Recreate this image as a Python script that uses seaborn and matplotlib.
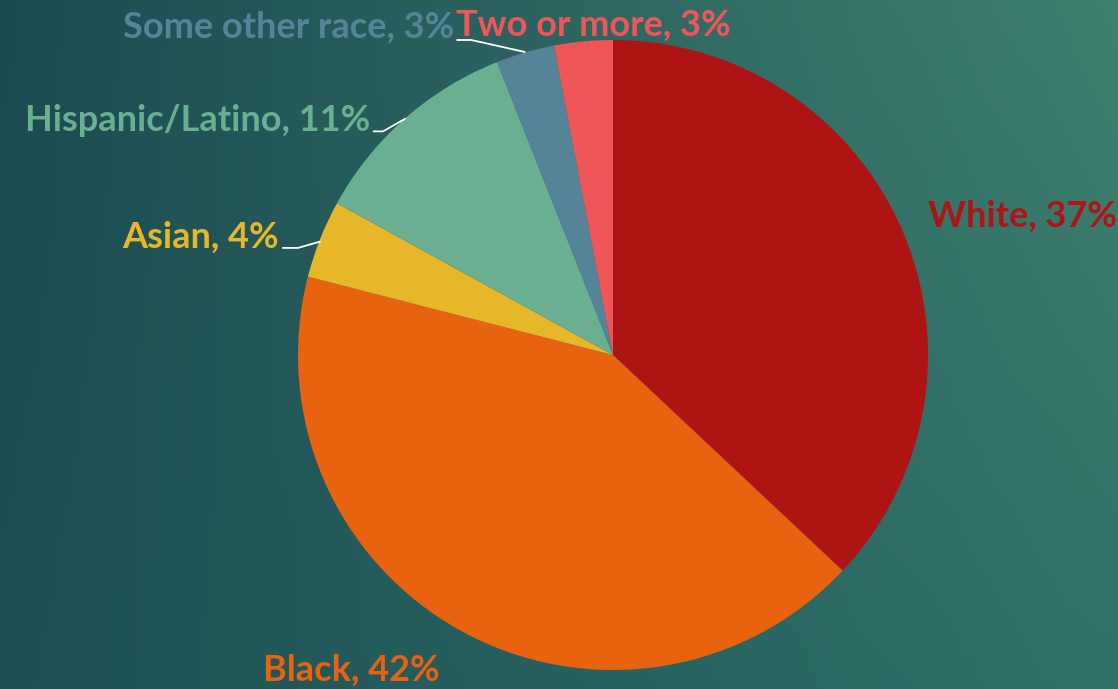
import matplotlib.pyplot as plt
import numpy as np
import seaborn as sns
from matplotlib.colors import to_rgb

labels = ['White', 'Black', 'Asian', 'Hispanic/Latino', 'Some other race', 'Two or more']
shares = [37, 42, 4, 11, 3, 3]
colors = ['#AF1414', '#E8620F', '#E6B729', '#6AAF91', '#558499', '#F05658']

# label anchor (x, y, ha) in pie data units
label_pos = [(1.0, 0.44, 'left'), (-1.11, -1.0, 'left'), (-1.06, 0.375, 'right'),
             (-0.77, 0.745, 'right'), (-0.505, 1.04, 'right'), (-0.50, 1.048, 'left')]
# leader lines for the small slices
leaders = {2: [(-1.048, 0.34), (-1.0, 0.34), (-0.93, 0.36)],
           3: [(-0.76, 0.71), (-0.73, 0.71), (-0.66, 0.75)],
           4: [(-0.495, 1.0), (-0.45, 1.0), (-0.28, 0.962)]}

sns.set_style('white')
plt.rcParams['font.family'] = ['Lato', 'DejaVu Sans']

fig = plt.figure(figsize=(11.18, 6.89), dpi=100)

# background gradient
bg = fig.add_axes([0, 0, 1, 1])
tl, tr = np.array(to_rgb('#1c4a52')), np.array(to_rgb('#3f8070'))
bl, br = np.array(to_rgb('#1e4f55')), np.array(to_rgb('#2f7168'))
xs = np.linspace(0, 1, 200)[None, :, None]
ys = np.linspace(0, 1, 120)[:, None, None]
top = tl + (tr - tl) * xs
bottom = bl + (br - bl) * xs
grad = top + (bottom - top) * ys
bg.imshow(grad, aspect='auto', extent=[0, 1, 0, 1], origin='upper')
bg.set_axis_off()

ax = fig.add_axes([298 / 1118, 19 / 689, 630 / 1118, 630 / 689])
ax.pie(shares, colors=colors, startangle=90, counterclock=False, radius=1.0,
       wedgeprops={'linewidth': 0})
ax.set_xlim(-1, 1)
ax.set_ylim(-1, 1)
ax.set_aspect('auto')
ax.set_axis_off()

for i, (lab, val) in enumerate(zip(labels, shares)):
    x, y, ha = label_pos[i]
    ax.text(x, y, f'{lab}, {val}%', color=colors[i], fontsize=26, fontweight='bold',
            ha=ha, va='center', clip_on=False)
    if i in leaders:
        pts = np.array(leaders[i])
        ax.plot(pts[:, 0], pts[:, 1], color='white', lw=1.3, clip_on=False)

fig.savefig('out.png', dpi=100)
